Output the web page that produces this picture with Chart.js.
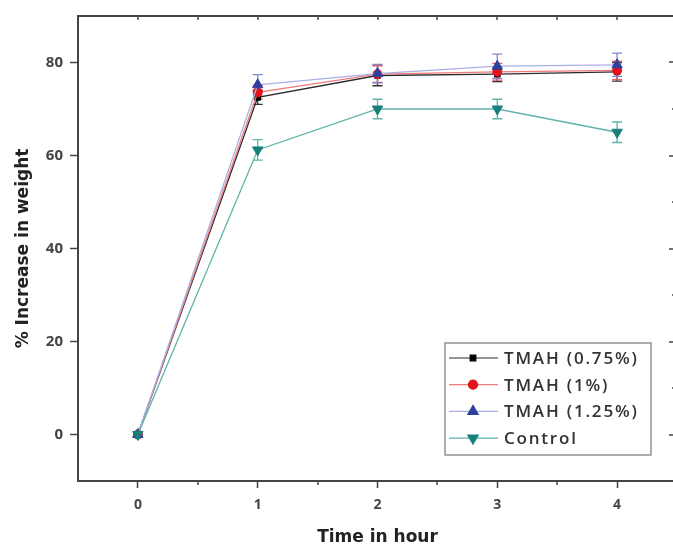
<!DOCTYPE html>
<html>
<head>
<meta charset="utf-8">
<script src="https://cdn.jsdelivr.net/npm/chart.js@4/dist/chart.umd.min.js"></script>
<style>
  html, body { margin: 0; padding: 0; background: #fff; }
  #wrap { width: 673px; height: 548px; overflow: hidden; position: relative; }
  canvas { display: block; }
</style>
</head>
<body>
<div id="wrap"><canvas id="weightChart" width="690" height="548"></canvas></div>
<script>
// hours
var hours = [0, 1, 2, 3, 4];

// % increase in weight for each treatment
var tmah075 = [0, 72.5, 77.2, 77.5, 78.0];
var tmah1   = [0, 73.6, 77.5, 78.0, 78.3];
var tmah125 = [0, 75.2, 77.6, 79.2, 79.5];
var control = [0, 61.2, 70.0, 70.0, 65.0];

// error bar half-widths
var err075 = [0.5, 1.5, 2.2, 1.6, 2.0];
var err1   = [0.5, 1.5, 1.8, 1.8, 2.0];
var err125 = [0.5, 2.2, 2.0, 2.6, 2.5];
var errCtl = [0.5, 2.2, 2.1, 2.1, 2.2];

var xTicks = [0, 1, 2, 3, 4];
var yTicks = [0, 20, 40, 60, 80];

var axisColor = '#444';

function pts(vals) {
    return hours.map(function (h, i) { return { x: h, y: vals[i] }; });
}

var series = [
    { label: 'TMAH (0.75%)', vals: tmah075, err: err075, line: '#2a2a2a', mark: '#000000', errColor: '#333', style: 'rect', radius: 4, rot: 0 },
    { label: 'TMAH (1%)',    vals: tmah1,   err: err1,   line: '#f07a7a', mark: '#e3121b', errColor: '#e86060', style: 'circle', radius: 4.5, rot: 0 },
    { label: 'TMAH (1.25%)', vals: tmah125, err: err125, line: '#aab0e6', mark: '#2f3f9e', errColor: '#7d86d6', style: 'triangle', radius: 6, rot: 0 },
    { label: 'Control',      vals: control, err: errCtl, line: '#5fb3aa', mark: '#17807a', errColor: '#5fb3aa', style: 'triangle', radius: 6, rot: 180 }
];

// error bars, drawn through the scales
var errorBars = {
    id: 'errorBars',
    beforeDatasetsDraw: function (chart) {
        var ctx = chart.ctx, xs = chart.scales.x, ys = chart.scales.y;
        ctx.save();
        ctx.lineWidth = 1.3;
        series.forEach(function (s) {
            ctx.strokeStyle = s.errColor;
            hours.forEach(function (h, i) {
                var px = xs.getPixelForValue(h);
                var top = ys.getPixelForValue(s.vals[i] + s.err[i]);
                var bot = ys.getPixelForValue(s.vals[i] - s.err[i]);
                ctx.beginPath();
                ctx.moveTo(px, top); ctx.lineTo(px, bot);
                ctx.moveTo(px - 5, top); ctx.lineTo(px + 5, top);
                ctx.moveTo(px - 5, bot); ctx.lineTo(px + 5, bot);
                ctx.stroke();
            });
        });
        ctx.restore();
    }
};

// top/right frame, mirrored ticks, minor ticks, legend
var frame = {
    id: 'frame',
    afterDraw: function (chart) {
        var ctx = chart.ctx, a = chart.chartArea, xs = chart.scales.x, ys = chart.scales.y;
        ctx.save();
        ctx.strokeStyle = axisColor;
        ctx.lineWidth = 2;
        ctx.beginPath();
        ctx.moveTo(a.left - 1, a.top); ctx.lineTo(a.right, a.top); ctx.lineTo(a.right, a.bottom);
        ctx.stroke();
        ctx.lineWidth = 1.5;
        ctx.beginPath();
        for (var v = 0; v <= 4.5; v += 0.5) {
            var px = Math.round(xs.getPixelForValue(v));
            ctx.moveTo(px, a.top); ctx.lineTo(px, a.top + 4);
            if (v % 1 !== 0) { ctx.moveTo(px, a.bottom); ctx.lineTo(px, a.bottom + 4); }
        }
        for (var y = 0; y <= 80; y += 10) {
            var py = Math.round(ys.getPixelForValue(y));
            ctx.moveTo(a.right, py); ctx.lineTo(a.right - (y % 20 === 0 ? 8 : 5), py);
        }
        ctx.stroke();

        // legend box
        var bx = 445, by = 343, bw = 206, bh = 112;
        ctx.lineWidth = 1.2;
        ctx.strokeStyle = '#777';
        ctx.fillStyle = '#fff';
        ctx.fillRect(bx, by, bw, bh);
        ctx.strokeRect(bx, by, bw, bh);
        ctx.font = '600 17px "Open Sans"';
        ctx.textBaseline = 'middle';
        ctx.letterSpacing = '1.8px';
        series.forEach(function (s, i) {
            var ry = 358 + i * 26.7;
            ctx.strokeStyle = s.line;
            ctx.lineWidth = 1.2;
            ctx.beginPath();
            ctx.moveTo(449, ry); ctx.lineTo(498, ry);
            ctx.stroke();
            ctx.fillStyle = s.mark;
            ctx.strokeStyle = s.mark;
            Chart.helpers.drawPoint(ctx, {
                pointStyle: s.style, radius: s.radius, rotation: s.rot, borderWidth: 1
            }, 473, ry);
            ctx.fillStyle = '#333';
            ctx.fillText(s.label, 504, ry + 1);
        });
        ctx.restore();
    }
};

var ctx = document.getElementById('weightChart').getContext('2d');
var myChart = new Chart(ctx, {
    type: 'line',
    data: {
        datasets: series.map(function (s, i) {
            return {
                label: s.label,
                data: pts(s.vals),
                borderColor: s.line,
                borderWidth: 1.3,
                backgroundColor: s.mark,
                pointBackgroundColor: s.mark,
                pointBorderColor: s.mark,
                pointBorderWidth: 1,
                pointStyle: s.style,
                pointRadius: s.radius,
                pointRotation: s.rot,
                tension: 0,
                fill: false,
                order: 4 - i
            };
        })
    },
    plugins: [errorBars, frame],
    options: {
        responsive: false,
        animation: false,
        devicePixelRatio: 1,
        layout: { padding: { top: 14, right: 13, left: 0, bottom: 0 } },
        plugins: {
            legend: { display: false },
            tooltip: { enabled: false }
        },
        scales: {
            x: {
                type: 'linear',
                min: -0.5,
                max: 4.5,
                afterBuildTicks: function (scale) {
                    scale.ticks = xTicks.map(function (v) { return { value: v }; });
                },
                afterFit: function (scale) { scale.height = 67; },
                ticks: {
                    color: '#444',
                    padding: 9,
                    maxRotation: 0,
                    font: { family: 'Open Sans', size: 14, weight: 'bold' }
                },
                grid: { drawOnChartArea: false, tickLength: 7, tickColor: axisColor, tickWidth: 1.5 },
                border: { color: axisColor, width: 2 },
                title: {
                    display: true,
                    text: 'Time in hour',
                    color: '#222',
                    padding: { top: 0, bottom: 0 },
                    font: { family: 'DejaVu Sans', size: 17, weight: 'bold' }
                }
            },
            y: {
                type: 'linear',
                min: -10,
                max: 90,
                afterBuildTicks: function (scale) {
                    scale.ticks = yTicks.map(function (v) { return { value: v }; });
                },
                afterFit: function (scale) { scale.width = 78; },
                ticks: {
                    color: '#444',
                    padding: 7,
                    font: { family: 'Open Sans', size: 15, weight: 'bold' }
                },
                grid: { drawOnChartArea: false, tickLength: 8, tickColor: axisColor, tickWidth: 1.5 },
                border: { color: axisColor, width: 2 },
                title: {
                    display: true,
                    text: '% Increase in weight',
                    color: '#222',
                    padding: { top: 13, bottom: 0 },
                    font: { family: 'DejaVu Sans', size: 17, weight: 'bold' }
                }
            }
        }
    }
});
</script>
</body>
</html>
